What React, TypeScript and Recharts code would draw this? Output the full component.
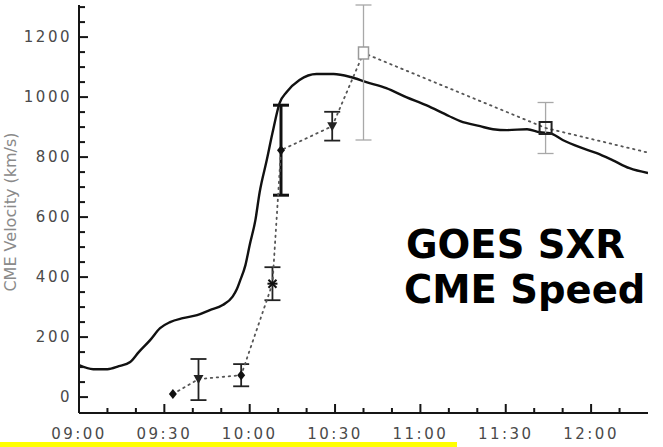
import { LineChart, Line, XAxis, YAxis, ErrorBar } from "recharts"

// GOES soft X-ray trace, rescaled onto the velocity axis (x = minutes after 09:00)
const sxrMinutes = [
  0, 5, 10, 14, 18, 21, 25, 28.5, 32, 36.5, 41.5, 46, 50.5, 54, 55.5, 56.5, 58.5, 60, 62, 63.5,
  66, 68, 70.5, 73, 77.5, 83.5, 89.5, 95.5, 101, 108, 115, 122, 130, 134, 141, 145.5, 150.5,
  157.5, 162, 165.5, 170, 176, 182, 187.5, 193.5, 200,
]
const sxrValues = [
  107, 93, 93, 103, 117, 150, 190, 230, 250, 263, 273, 290, 307, 335, 360, 385, 440, 507, 590, 683,
  790, 880, 980, 1017, 1057, 1077, 1077, 1067, 1050, 1030, 1000, 973, 937, 920, 903, 893, 890,
  893, 883, 880, 857, 833, 813, 790, 763, 747,
]

// CME leading-edge speeds with their uncertainties
const cmeTimes = ["09:33", "09:42", "09:57", "10:08", "10:11", "10:29", "10:40", "11:44", "12:20"]
const cmeSpeeds = [10, 60, 73, 378, 823, 903, 1147, 897, 815]
const cmeErrLow = [0, 70, 37, 55, 150, 48, 290, 85, 0]
const cmeErrHigh = [0, 67, 37, 55, 150, 48, 160, 85, 0]

const timeTicks = [0, 10, 20, 30, 40, 50, 60, 70, 80, 90, 100, 110, 120, 130, 140, 150, 160, 170, 180, 190]
const timeLabels = ["09:00", "09:30", "10:00", "10:30", "11:00", "11:30", "12:00"]
const speedTicks = [
  0, 50, 100, 150, 200, 250, 300, 350, 400, 450, 500, 550, 600, 650, 700, 750, 800, 850, 900,
  950, 1000, 1050, 1100, 1150, 1200, 1250, 1300,
]
const speedLabels = [0, 200, 400, 600, 800, 1000, 1200]

// marker / error-bar look for each CME point
const cmeMarkers = ["diamond", "triangle", "diamond", "star", "diamond", "triangle", "squareLight", "square", "none"]
const cmeBarTone = ["", "dark", "dark", "dark", "bold", "dark", "light", "light", ""]

const toMinutes = (t: string) => {
  const [h, m] = t.split(":").map(Number)
  return (h - 9) * 60 + m
}
const fmtTime = (min: number) => {
  const h = 9 + Math.floor(min / 60)
  const m = min % 60
  return `${String(h).padStart(2, "0")}:${String(m).padStart(2, "0")}`
}

const sxrData = sxrMinutes.map((t, i) => ({ t, v: sxrValues[i] }))
const cmeData = cmeTimes.map((time, i) => {
  const err = [cmeErrLow[i], cmeErrHigh[i]]
  return {
    t: toMinutes(time),
    v: cmeSpeeds[i],
    errDark: cmeBarTone[i] === "dark" ? err : undefined,
    errBold: cmeBarTone[i] === "bold" ? err : undefined,
    errLight: cmeBarTone[i] === "light" ? err : undefined,
  }
})

const labelledMinutes = new Set(timeLabels.map(toMinutes))
const FRAME = "#151515"
const LABEL_STYLE = { fontFamily: "'DejaVu Sans', sans-serif", fontSize: 15, fill: "#4a4a4a", letterSpacing: 2.5 }

const TimeTick = ({ x, y, payload, side }: any) => {
  const major = labelledMinutes.has(payload.value)
  const len = major ? 9 : 5
  const dir = side === "top" ? 1 : -1
  return (
    <g>
      <line x1={x} y1={y} x2={x} y2={y + dir * len} stroke={FRAME} strokeWidth={2} />
      {side === "bottom" && major && (
        <text x={x} y={y + 26} textAnchor="middle" {...LABEL_STYLE}>
          {fmtTime(payload.value)}
        </text>
      )}
    </g>
  )
}

const SpeedTick = ({ x, y, payload, side }: any) => {
  const major = speedLabels.includes(payload.value)
  const len = major ? 9 : 6
  const dir = side === "right" ? -1 : 1
  return (
    <g>
      <line x1={x} y1={y} x2={x + dir * len} y2={y} stroke={FRAME} strokeWidth={2} />
      {side === "left" && major && (
        <text x={x - 7} y={y + 5} textAnchor="end" {...LABEL_STYLE}>
          {payload.value}
        </text>
      )}
    </g>
  )
}

const renderCmeDot = (props: any) => {
  const { cx, cy, index } = props
  const key = `cme-${index}`
  if (cx == null || cy == null) return <g key={key} />
  switch (cmeMarkers[index]) {
    case "diamond":
      return <path key={key} d={`M${cx},${cy - 5} L${cx + 4},${cy} L${cx},${cy + 5} L${cx - 4},${cy} Z`} fill="#111" />
    case "triangle":
      return <path key={key} d={`M${cx - 5},${cy - 4} L${cx + 5},${cy - 4} L${cx},${cy + 5} Z`} fill="#222" />
    case "star":
      return (
        <g key={key} stroke="#111" strokeWidth={2}>
          <line x1={cx - 5} y1={cy} x2={cx + 5} y2={cy} />
          <line x1={cx - 4} y1={cy - 4} x2={cx + 4} y2={cy + 4} />
          <line x1={cx - 4} y1={cy + 4} x2={cx + 4} y2={cy - 4} />
        </g>
      )
    case "squareLight":
      return <rect key={key} x={cx - 5} y={cy - 6} width={10} height={12} fill="#fff" stroke="#9a9a9a" strokeWidth={1.5} />
    case "square":
      return <rect key={key} x={cx - 6} y={cy - 6} width={12} height={12} fill="none" stroke="#222" strokeWidth={2} />
    default:
      return <g key={key} />
  }
}

export default function App() {
  return (
    <div
      style={{
        position: "fixed",
        left: 0,
        top: 0,
        width: 663,
        height: 447,
        background: "#fff",
        overflow: "hidden",
        fontFamily: "'DejaVu Sans', sans-serif",
      }}
    >
      <LineChart width={663} height={447} margin={{ top: 5, right: 15, bottom: 0, left: 0 }}>
        <XAxis
          type="number"
          dataKey="t"
          domain={[0, 200]}
          ticks={timeTicks}
          interval={0}
          height={34}
          allowDataOverflow
          tickLine={false}
          tickSize={0}
          tickMargin={0}
          axisLine={{ stroke: FRAME, strokeWidth: 2 }}
          tick={(p: any) => <TimeTick {...p} side="bottom" />}
        />
        <XAxis
          xAxisId="top"
          orientation="top"
          type="number"
          dataKey="t"
          domain={[0, 200]}
          ticks={timeTicks}
          interval={0}
          height={0}
          allowDataOverflow
          tickLine={false}
          tickSize={0}
          tickMargin={0}
          axisLine={{ stroke: FRAME, strokeWidth: 2 }}
          tick={(p: any) => <TimeTick {...p} side="top" />}
        />
        <YAxis
          type="number"
          domain={[-53, 1307]}
          ticks={speedTicks}
          interval={0}
          width={79}
          allowDataOverflow
          tickLine={false}
          tickSize={0}
          tickMargin={0}
          axisLine={{ stroke: FRAME, strokeWidth: 2 }}
          tick={(p: any) => <SpeedTick {...p} side="left" />}
        />
        <YAxis
          yAxisId="right"
          orientation="right"
          type="number"
          domain={[-53, 1307]}
          ticks={speedTicks}
          interval={0}
          width={0}
          allowDataOverflow
          tickLine={false}
          tickSize={0}
          tickMargin={0}
          axisLine={{ stroke: "#444", strokeWidth: 2 }}
          tick={(p: any) => <SpeedTick {...p} side="right" />}
        />
        <Line
          data={sxrData}
          dataKey="v"
          type="monotone"
          stroke="#111"
          strokeWidth={2.4}
          dot={false}
          isAnimationActive={false}
        />
        <Line
          data={cmeData}
          dataKey="v"
          type="linear"
          stroke="#555"
          strokeWidth={1.8}
          strokeDasharray="1.5 4.5"
          strokeLinecap="round"
          dot={renderCmeDot}
          activeDot={false}
          isAnimationActive={false}
        >
          <ErrorBar dataKey="errDark" direction="y" width={8} stroke="#222" strokeWidth={1.8} isAnimationActive={false} />
          <ErrorBar dataKey="errBold" direction="y" width={8} stroke="#111" strokeWidth={3} isAnimationActive={false} />
          <ErrorBar dataKey="errLight" direction="y" width={8} stroke="#a8a8a8" strokeWidth={1.3} isAnimationActive={false} />
        </Line>
      </LineChart>

      <svg width={663} height={447} style={{ position: "absolute", left: 0, top: 0, pointerEvents: "none" }}>
        <text
          transform="translate(10, 212) rotate(-90)"
          textAnchor="middle"
          dominantBaseline="central"
          fontFamily="'DejaVu Sans', sans-serif"
          fontSize={16}
          fill="#8a8a8a"
        >
          CME Velocity (km/s)
        </text>
        <g fontFamily="'DejaVu Sans', sans-serif" fontWeight="bold" fontSize={38.5} fill="#000">
          <text x={406} y={258}>GOES SXR</text>
          <text x={404} y={303}>CME Speed</text>
        </g>
        <rect x={0} y={442} width={457} height={5} fill="#ffff00" />
      </svg>
    </div>
  )
}
